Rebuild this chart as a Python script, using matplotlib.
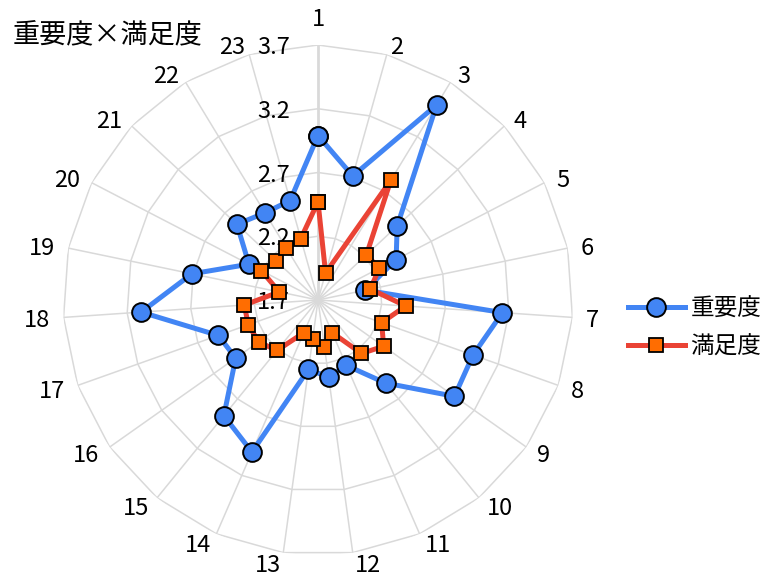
import numpy as np
import matplotlib
matplotlib.use("Agg")
import matplotlib.pyplot as plt

plt.rcParams["font.family"] = ["Noto Sans CJK JP", "DejaVu Sans"]

# 23 items
CATEGORIES = [str(i) for i in range(1, 24)]
IMPORTANCE = [2.99, 2.71, 3.49, 2.55, 2.39, 2.08, 3.15, 2.99, 3.01, 2.54, 2.26, 2.31,
              2.25, 3.00, 2.87, 2.49, 2.53, 3.09, 2.71, 2.31, 2.57, 2.50, 2.51]
SATISFACTION = [2.47, 1.92, 2.80, 2.22, 2.24, 2.12, 2.39, 2.23, 2.33, 2.24, 1.98, 2.07,
                2.01, 1.98, 2.21, 2.27, 2.28, 2.28, 2.01, 2.20, 2.15, 2.18, 2.20]
R_TICKS = [1.7, 2.2, 2.7, 3.2, 3.7]
R_LABELS = ["1.7", "2.2", "2.7", "3.2", "3.7"]

BLUE = "#4285F4"
RED = "#EA4335"
ORANGE = "#FF6D01"
GRID = "#d9d9d9"

W, H = 771, 577
fig = plt.figure(figsize=(W / 100, H / 100), dpi=100)
cx, cy, rad = 318, 300, 255
ax = fig.add_axes([(cx - rad) / W, (H - cy - rad) / H, 2 * rad / W, 2 * rad / H],
                  projection="polar")
ax.set_theta_zero_location("N")
ax.set_theta_direction(-1)
ax.set_ylim(R_TICKS[0], R_TICKS[-1])
ax.grid(False)
ax.set_xticks([])
ax.set_yticks([])
ax.spines["polar"].set_visible(False)
ax.patch.set_visible(False)

n = len(CATEGORIES)
theta = np.arange(n) * 2 * np.pi / n
closed = np.append(theta, theta[0])

# polygon grid + spokes
for v in R_TICKS[1:]:
    ax.plot(closed, [v] * (n + 1), color=GRID, lw=1.1, zorder=1)
for i, t in enumerate(theta):
    ax.plot([t, t], [R_TICKS[0], R_TICKS[-1]], color=GRID,
            lw=2.0 if i == 0 else 1.1, zorder=1)

ax.plot(closed, IMPORTANCE + IMPORTANCE[:1], color=BLUE, lw=3.6, marker="o",
        ms=13.5, mfc=BLUE, mec="black", mew=1.4, label="重要度", zorder=3, clip_on=False)
ax.plot(closed, SATISFACTION + SATISFACTION[:1], color=RED, lw=3.6, marker="s",
        ms=10, mfc=ORANGE, mec="black", mew=1.3, label="満足度", zorder=4, clip_on=False)

# category labels around the outside
for t, lab in zip(theta, CATEGORIES):
    s, c = np.sin(t), np.cos(t)
    if abs(s) < 1e-6:
        ax.annotate(lab, xy=(t, R_TICKS[-1]), xytext=(0, 14), textcoords="offset pixels",
                    ha="center", va="bottom", fontsize=17, annotation_clip=False)
        continue
    ha = "left" if s > 0 else "right"
    ax.annotate(lab, xy=(t, R_TICKS[-1]), xytext=(13 * s, 10 * c),
                textcoords="offset pixels", ha=ha, va="center_baseline",
                fontsize=17, annotation_clip=False)

# value axis labels
for v, lab in zip(R_TICKS, R_LABELS):
    ax.annotate(lab, xy=(0, v), xytext=(-28, 0), textcoords="offset pixels",
                ha="right", va="center_baseline", fontsize=17, annotation_clip=False,
                zorder=2)

fig.text(13 / W, 1 - 36 / H, "重要度×満足度", ha="left", va="center", fontsize=19.5)

fig.legend(loc="center left", bbox_to_anchor=(628 / W, 1 - 328 / H), frameon=False,
           fontsize=17, handlelength=2.4, handletextpad=0.25, labelspacing=0.65,
           borderpad=0, borderaxespad=0)

fig.savefig("out.png", dpi=100)
